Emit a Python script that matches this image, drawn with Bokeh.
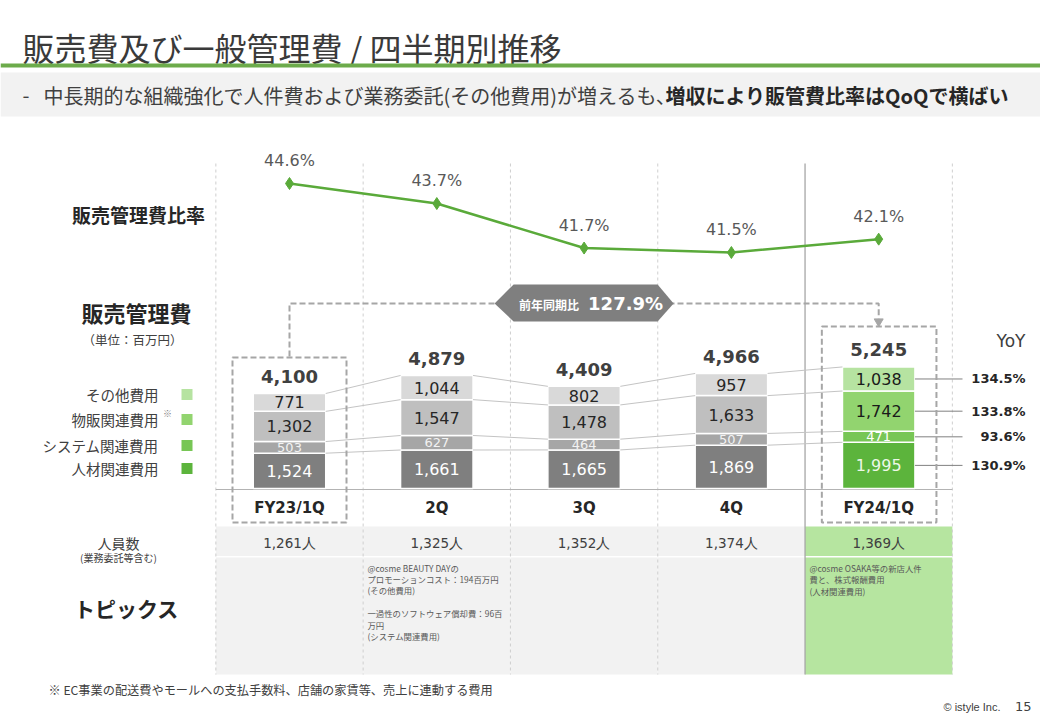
from bokeh.plotting import figure
from bokeh.models import Range1d, ColumnDataSource
from bokeh.core.properties import value
from bokeh.embed import file_html
from bokeh.resources import INLINE

# ---------------- data ----------------
quarters = ["FY23/1Q", "2Q", "3Q", "4Q", "FY24/1Q"]
hr_cost = [1524, 1661, 1665, 1869, 1995]        # 人材関連費用
sys_cost = [503, 627, 464, 507, 471]            # システム関連費用
sales_cost = [1302, 1547, 1478, 1633, 1742]     # 物販関連費用
other_cost = [771, 1044, 802, 957, 1038]        # その他費用
totals = [4100, 4879, 4409, 4966, 5245]
sga_ratio = [44.6, 43.7, 41.7, 41.5, 42.1]      # 販売管理費比率 (%)
yoy_labels = ["130.9%", "93.6%", "133.8%", "134.5%"]  # 人材, システム, 物販, その他
yoy_total = "127.9%"
headcount = ["1,261人", "1,325人", "1,352人", "1,374人", "1,369人"]
legend_names = ["その他費用", "物販関連費用", "システム関連費用", "人材関連費用"]
topic_2q = ["@cosme  BEAUTY DAYの", "プロモーションコスト：194百万円", "(その他費用)",
            "", "一過性のソフトウェア償却費：96百", "万円", "(システム関連費用)"]
topic_fy24 = ["@cosme  OSAKA等の新店人件", "費と、株式報酬費用", "(人材関連費用)"]

# ---------------- layout constants ----------------
W, H = 1040, 716
PX0, PY0 = 0, 0
X0_PX, QSTEP = 289.0, 147.3           # pixel of first quarter, pixels per quarter
BASE_PX, VSCALE = 488.0, 0.02317      # bar baseline pixel, pixels per million yen
PCT_REF, PCT_REF_PX, PSCALE = 40.0, 285.4, 22.26
BAR_W = 0.492

JP = "Noto Sans CJK JP"
NUM = "DejaVu Sans"
DARK = "#404040"


def q_of(px):
    return (px - X0_PX) / QSTEP


p = figure(width=W, height=H,
           x_range=Range1d(PX0, PX0 + W), y_range=Range1d(PY0 + H, PY0),
           output_backend="svg", toolbar_location=None, min_border=0,
           x_axis_location=None, y_axis_location=None,
           outline_line_color=None, background_fill_color="white",
           border_fill_color="white")
p.grid.visible = False
p.extra_x_ranges = {"q": Range1d(q_of(PX0), q_of(PX0 + W))}
p.extra_y_ranges = {
    "val": Range1d((BASE_PX - (PY0 + H)) / VSCALE, (BASE_PX - PY0) / VSCALE),
    "pct": Range1d(PCT_REF - ((PY0 + H) - PCT_REF_PX) / PSCALE,
                   PCT_REF + (PCT_REF_PX - PY0) / PSCALE),
}


def txt(x, y, s, size, color=DARK, font=JP, bold=False, align="left",
        baseline="middle", **kw):
    p.text(x=[x], y=[y], text=[s], text_font=value(font),
           text_font_size=f"{size}px", text_color=color, text_align=align,
           text_baseline=baseline,
           text_font_style="bold" if bold else "normal", **kw)


# ---------------- header ----------------
txt(22, 46, "販売費及び一般管理費 / 四半期別推移", 32, color="#3a3a3a")
p.quad(left=PX0, right=PX0 + W, top=63, bottom=67, fill_color="#6cab4b", line_color=None)
p.quad(left=PX0, right=PX0 + W, top=72, bottom=116, fill_color="#f2f2f2", line_color=None)
txt(22, 95, "-", 20)
txt(43, 95, "中長期的な組織強化で人件費および業務委託(その他費用)が増えるも、", 20)
txt(665, 95, "増収により販管費比率はQoQで横ばい", 20, color="#262626", bold=True)

# ---------------- table background ----------------
xs = list(range(len(quarters)))
row_fill = ["#f2f2f2"] * 4 + ["#b6e5a0"]
p.quad(left=[i - 0.5 for i in xs], right=[i + 0.5 for i in xs],
       top=[526] * 5, bottom=[555.5] * 5, fill_color=row_fill, line_color=None,
       x_range_name="q")
p.quad(left=[i - 0.5 for i in xs], right=[i + 0.5 for i in xs],
       top=[557] * 5, bottom=[674] * 5, fill_color=row_fill, line_color=None,
       x_range_name="q")

# ---------------- column separators ----------------
dash_x = [-0.5, 0.5, 1.5, 2.5, 4.5]
p.segment(x0=dash_x, x1=dash_x, y0=[163] * 5, y1=[674] * 5, line_color="#cfcfcf",
          line_width=1, line_dash="3 3", x_range_name="q")
p.segment(x0=[3.5], x1=[3.5], y0=[163], y1=[674], line_color="#a6a6a6",
          line_width=1.3, x_range_name="q")
p.segment(x0=[-0.5], x1=[4.5], y0=[489], y1=[489], line_color="#b3b3b3",
          line_width=1.2, x_range_name="q")

# ---------------- ratio line ----------------
p.line(x=xs, y=sga_ratio, line_color="#5aaa3a", line_width=2.5,
       x_range_name="q", y_range_name="pct")
p.scatter(x=xs, y=sga_ratio, marker="diamond", size=12, fill_color="#5aaa3a",
          line_color="#5aaa3a", x_range_name="q", y_range_name="pct")
p.text(x=xs, y=sga_ratio, text=[f"{v:.1f}%" for v in sga_ratio],
       text_font=value(NUM), text_font_size="16px", text_color="#595959",
       text_align="center", text_baseline="middle", y_offset=-23,
       x_range_name="q", y_range_name="pct")

# ---------------- stacked bars ----------------
segments = [hr_cost, sys_cost, sales_cost, other_cost]
gray = ["#7f7f7f", "#a6a6a6", "#bfbfbf", "#d9d9d9"]
green = ["#5cb43c", "#77c655", "#92d46f", "#b6e3a1"]
lab_gray = ["#ffffff", "#f2f2f2", "#262626", "#262626"]
lab_green = ["#eef8e8", "#ffffff", "#1a1a1a", "#1a1a1a"]
lab_size = ["16px", "13px", "16px", "16px"]

cum = [0] * len(quarters)
levels = []
fy24_mids = []
for k, seg in enumerate(segments):
    bottom = cum[:]
    top = [b + v for b, v in zip(bottom, seg)]
    mid = [(b + t) / 2 for b, t in zip(bottom, top)]
    fy24_mids.append(mid[-1])
    src = ColumnDataSource(dict(
        x=xs, bottom=bottom, top=top, mid=mid,
        color=[gray[k]] * 4 + [green[k]],
        label=[f"{v:,}" for v in seg],
        lcolor=[lab_gray[k]] * 4 + [lab_green[k]],
    ))
    p.vbar(x="x", bottom="bottom", top="top", width=BAR_W, fill_color="color",
           line_color="white", line_width=1.5, source=src,
           x_range_name="q", y_range_name="val")
    p.text(x="x", y="mid", text="label", text_color="lcolor",
           text_font=value(NUM), text_font_size=lab_size[k],
           text_align="center", text_baseline="middle", source=src,
           x_range_name="q", y_range_name="val")
    cum = top
    levels.append(top)

# connectors between bars
for lv in levels:
    p.segment(x0=[i + BAR_W / 2 for i in xs[:-1]], x1=[i + 1 - BAR_W / 2 for i in xs[:-1]],
              y0=lv[:-1], y1=lv[1:], line_color="#c4c4c4", line_width=1,
              x_range_name="q", y_range_name="val")

# totals
p.text(x=xs, y=totals, text=[f"{v:,}" for v in totals], text_font=value(NUM),
       text_font_size="18px", text_font_style="bold", text_color=DARK,
       text_align="center", text_baseline="middle", y_offset=-17,
       x_range_name="q", y_range_name="val")

# YoY
txt(996, 340, "YoY", 17, font=NUM)
p.segment(x0=[4 + BAR_W / 2] * 4, x1=[q_of(962)] * 4, y0=fy24_mids, y1=fy24_mids,
          line_color="#808080", line_width=1, x_range_name="q", y_range_name="val")
p.text(x=[q_of(1025)] * 4, y=fy24_mids, text=yoy_labels, text_font=value(NUM),
       text_font_size="13px", text_font_style="bold", text_color="#262626",
       text_align="right", text_baseline="middle",
       x_range_name="q", y_range_name="val")

# ---------------- dashed boxes & YoY badge ----------------
p.quad(left=[-0.387, 4 - 0.386], right=[0.387, 4 + 0.392], top=[357, 326],
       bottom=[522, 522], fill_alpha=0, line_color="#a6a6a6", line_width=2,
       line_dash="6 3", x_range_name="q")
p.line(x=[0, 0, 4, 4], y=[356, 303, 303, 318], line_color="#a6a6a6", line_width=2,
       line_dash="6 3", x_range_name="q")
p.scatter(x=[4], y=[321], marker="inverted_triangle", size=9, fill_color="#a6a6a6",
          line_color="#a6a6a6", x_range_name="q")
bx = (X0_PX + X0_PX + 4 * QSTEP) / 2
p.patch(x=[bx - 89.5, bx - 70.5, bx + 73.5, bx + 89.5, bx + 73.5, bx - 70.5],
        y=[303, 284, 284, 303, 321, 321], fill_color="#7f7f7f", line_color=None)
txt(bx - 65, 304, "前年同期比", 12, color="white", bold=True)
txt(bx + 4, 303, yoy_total, 18, color="white", font=NUM, bold=True)

# ---------------- left labels & legend ----------------
txt(138, 214, "販売管理費比率", 19, color="#262626", bold=True, align="center")
txt(136, 311, "販売管理費", 22, color="#262626", bold=True, align="center")
txt(132, 339, "（単位：百万円）", 12.5, align="center")
leg_y = [394, 419, 445, 468]
leg_col = [green[3], green[2], green[1], green[0]]
for name, y in zip(legend_names, leg_y):
    txt(158, y, name, 14.5, align="right")
p.rect(x=[186.5] * 4, y=leg_y, width=11, height=11, fill_color=leg_col, line_color=None)
txt(167, 413, "※", 9, color="#7f7f7f", align="center")

# category labels
p.text(x=xs, y=[507] * 5, text=quarters, text_font=value(NUM), text_font_size="15px",
       text_font_style="bold", text_color="#262626", text_align="center",
       text_baseline="middle", x_range_name="q")

# table texts
txt(118, 542, "人員数", 14, align="center")
txt(118, 557, "(業務委託等含む)", 10, align="center")
txt(126, 607, "トピックス", 21, color="#262626", bold=True, align="center")
p.text(x=xs, y=[542] * 5, text=headcount, text_font=value(NUM), text_font_size="13.5px",
       text_color=DARK, text_align="center", text_baseline="middle", x_range_name="q")
for j, line in enumerate(topic_2q):
    if line:
        txt(367, 567 + j * 11.4, line, 8.4, color="#595959")
for j, line in enumerate(topic_fy24):
    txt(809, 567 + j * 11.6, line, 8.4, color="#595959")

# footer
txt(48, 689, "※  EC事業の配送費やモールへの支払手数料、店舗の家賃等、売上に連動する費用", 12.2)
txt(1000, 706, "© istyle Inc.", 11, font="Liberation Sans", align="right")
txt(1031, 706, "15", 13, font=NUM, align="right")

open("out.html", "w").write(file_html(p, INLINE))
